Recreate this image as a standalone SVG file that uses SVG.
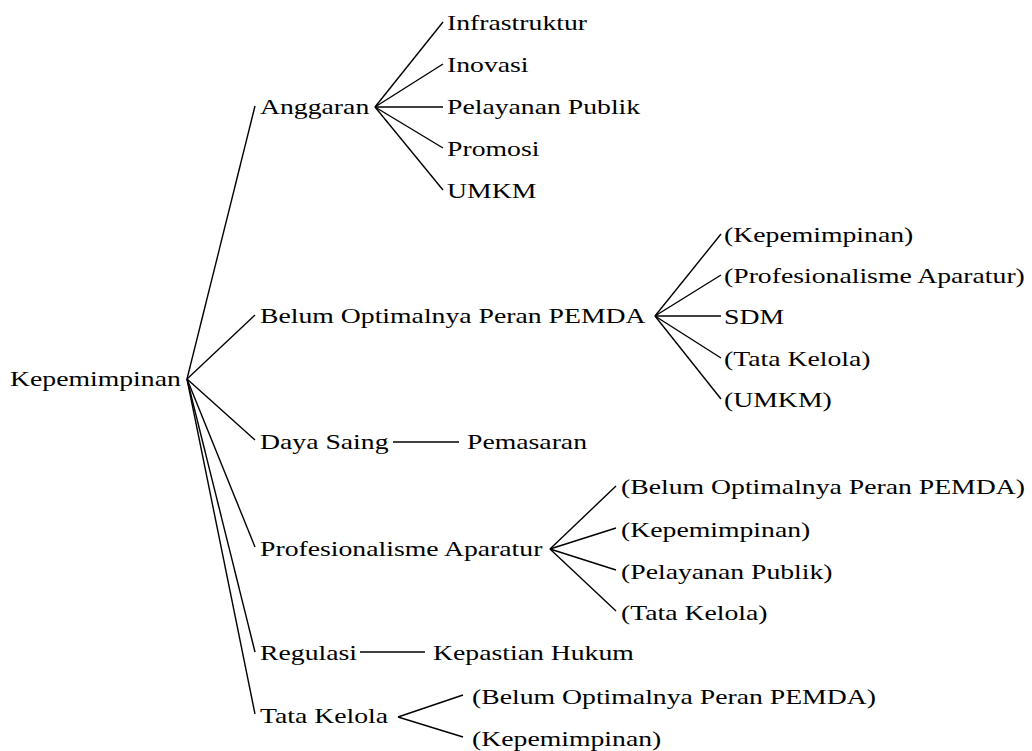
<svg xmlns="http://www.w3.org/2000/svg" width="1032" height="751" viewBox="0 0 1032 751">
<style>
.t{font-family:"Liberation Serif","Times New Roman",serif;font-size:21px;fill:#000}
.c line{stroke:#000;stroke-width:1.4;fill:none}
</style>
<rect width="1032" height="751" fill="#fff"/>
<g id="connectors" class="c">
<line x1="187" y1="379" x2="255" y2="106"/>
<line x1="187" y1="379" x2="255" y2="315"/>
<line x1="187" y1="379" x2="255" y2="440"/>
<line x1="187" y1="379" x2="255" y2="547"/>
<line x1="187" y1="379" x2="255" y2="652"/>
<line x1="187" y1="379" x2="255" y2="714"/>
<line x1="375" y1="107" x2="443" y2="22"/>
<line x1="375" y1="107" x2="443" y2="64"/>
<line x1="375" y1="107" x2="443" y2="107"/>
<line x1="375" y1="107" x2="443" y2="148"/>
<line x1="375" y1="107" x2="443" y2="190"/>
<line x1="655" y1="316" x2="721" y2="234"/>
<line x1="655" y1="316" x2="721" y2="275"/>
<line x1="655" y1="316" x2="721" y2="316"/>
<line x1="655" y1="316" x2="721" y2="358"/>
<line x1="655" y1="316" x2="721" y2="399"/>
<line x1="393" y1="442" x2="459" y2="442"/>
<line x1="550" y1="549" x2="616" y2="486"/>
<line x1="550" y1="549" x2="616" y2="528"/>
<line x1="550" y1="549" x2="616" y2="570"/>
<line x1="550" y1="549" x2="616" y2="611"/>
<line x1="360" y1="652" x2="425" y2="652"/>
<line x1="398" y1="717" x2="463" y2="695"/>
<line x1="398" y1="717" x2="463" y2="737"/>
</g>
<g id="root"><text class="t" transform="translate(10,386) scale(1.32,1)">Kepemimpinan</text></g>
<g id="anggaran"><text class="t" transform="translate(260,114) scale(1.32,1)">Anggaran</text></g>
<g id="belum"><text class="t" transform="translate(260,323) scale(1.32,1)">Belum Optimalnya Peran PEMDA</text></g>
<g id="daya-saing"><text class="t" transform="translate(260,449) scale(1.32,1)">Daya Saing</text></g>
<g id="profesionalisme"><text class="t" transform="translate(260,556) scale(1.32,1)">Profesionalisme Aparatur</text></g>
<g id="regulasi"><text class="t" transform="translate(260,660) scale(1.32,1)">Regulasi</text></g>
<g id="tata-kelola"><text class="t" transform="translate(260,723) scale(1.32,1)">Tata Kelola</text></g>
<g id="a-infrastruktur"><text class="t" transform="translate(447,30) scale(1.32,1)">Infrastruktur</text></g>
<g id="a-inovasi"><text class="t" transform="translate(447,72) scale(1.32,1)">Inovasi</text></g>
<g id="a-pelayanan"><text class="t" transform="translate(447,114) scale(1.32,1)">Pelayanan Publik</text></g>
<g id="a-promosi"><text class="t" transform="translate(447,156) scale(1.32,1)">Promosi</text></g>
<g id="a-umkm"><text class="t" transform="translate(447,198) scale(1.32,1)">UMKM</text></g>
<g id="b-kepemimpinan"><text class="t" transform="translate(724,242) scale(1.32,1)">(Kepemimpinan)</text></g>
<g id="b-profesionalisme"><text class="t" transform="translate(724,283) scale(1.32,1)">(Profesionalisme Aparatur)</text></g>
<g id="b-sdm"><text class="t" transform="translate(724,324) scale(1.32,1)">SDM</text></g>
<g id="b-tata"><text class="t" transform="translate(724,366) scale(1.32,1)">(Tata Kelola)</text></g>
<g id="b-umkm"><text class="t" transform="translate(724,407) scale(1.32,1)">(UMKM)</text></g>
<g id="d-pemasaran"><text class="t" transform="translate(467,449) scale(1.32,1)">Pemasaran</text></g>
<g id="p-belum"><text class="t" transform="translate(621,494) scale(1.32,1)">(Belum Optimalnya Peran PEMDA)</text></g>
<g id="p-kepemimpinan"><text class="t" transform="translate(621,537) scale(1.32,1)">(Kepemimpinan)</text></g>
<g id="p-pelayanan"><text class="t" transform="translate(621,579) scale(1.32,1)">(Pelayanan Publik)</text></g>
<g id="p-tata"><text class="t" transform="translate(621,620) scale(1.32,1)">(Tata Kelola)</text></g>
<g id="r-kepastian"><text class="t" transform="translate(433,660) scale(1.32,1)">Kepastian Hukum</text></g>
<g id="t-belum"><text class="t" transform="translate(472,704) scale(1.32,1)">(Belum Optimalnya Peran PEMDA)</text></g>
<g id="t-kepemimpinan"><text class="t" transform="translate(472,746) scale(1.32,1)">(Kepemimpinan)</text></g>
</svg>
